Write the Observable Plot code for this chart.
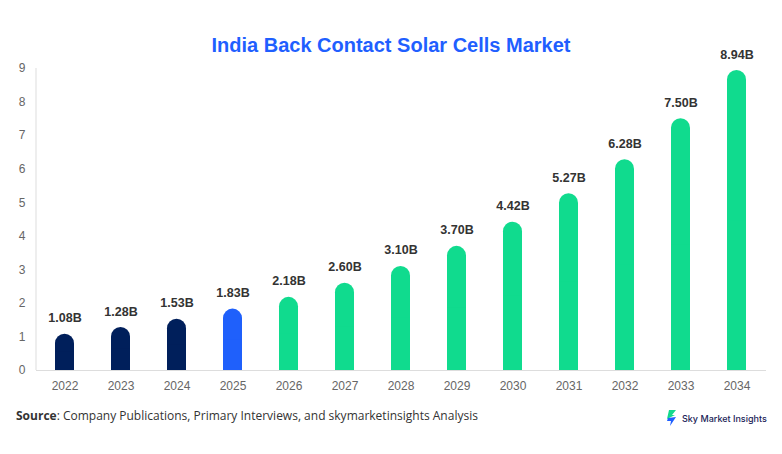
<!DOCTYPE html>
<html>
<head>
<meta charset="utf-8">
<script src="https://cdn.jsdelivr.net/npm/d3@7"></script>
<script src="https://cdn.jsdelivr.net/npm/@observablehq/plot@0.6"></script>
<style>
  html, body { margin: 0; padding: 0; background: #fff; }
  #wrap { position: relative; width: 782px; height: 454px; overflow: hidden; }
  #title { position: absolute; top: 33px; left: 0; width: 782px; text-align: center;
    font-family: "Liberation Sans", Arial, sans-serif; font-weight: bold; font-size: 20px;
    color: #1f5fff; line-height: 24px; }
  #chart { position: absolute; top: 0; left: 0; }
  #source { position: absolute; top: 407px; left: 16px; font-family: "Open Sans", sans-serif;
    font-size: 12px; color: #333; line-height: 18px; }
  #logo { position: absolute; top: 410px; left: 666px; display: flex; align-items: center;
    font-family: Inter, "Noto Sans", sans-serif; font-size: 9px; font-weight: 500; color: #1b2357; }
  #logo svg { margin-right: 5px; }
</style>
</head>
<body>
<div id="wrap">
  <div id="chart"></div>
  <div id="title">India Back Contact Solar Cells Market</div>
  <div id="source"><b>Source</b>: Company Publications, Primary Interviews, and skymarketinsights Analysis</div>
  <div id="logo">
    <svg width="11" height="16" viewBox="0 0 11 16">
      <path d="M3 0 L10 0 L6 5 L9 5 L1 9 Z" fill="#13d98c"/>
      <path d="M2 8 L10 7 L4 16 L5 11 L1 11 Z" fill="#1f5fff"/>
    </svg>
    <span>Sky Market Insights</span>
  </div>
</div>
<script>
const years = ["2022","2023","2024","2025","2026","2027","2028","2029","2030","2031","2032","2033","2034"];
const values = [1.08, 1.28, 1.53, 1.83, 2.18, 2.60, 3.10, 3.70, 4.42, 5.27, 6.28, 7.50, 8.94];
const labels = ["1.08B","1.28B","1.53B","1.83B","2.18B","2.60B","3.10B","3.70B","4.42B","5.27B","6.28B","7.50B","8.94B"];
const phase = ["hist","hist","hist","base","fc","fc","fc","fc","fc","fc","fc","fc","fc"];
const yTicks = [0,1,2,3,4,5,6,7,8,9];

const data = years.map((y, i) => ({year: y, value: values[i], label: labels[i], phase: phase[i]}));
const colorOf = {hist: "#001f5b", base: "#1f60fb", fc: "#10db8e"};

const yAxisLine = (index, scales, values, dims) => {
  const ns = "http://www.w3.org/2000/svg";
  const g = document.createElementNS(ns, "g");
  const l = document.createElementNS(ns, "line");
  l.setAttribute("x1", dims.marginLeft);
  l.setAttribute("x2", dims.marginLeft);
  l.setAttribute("y1", scales.y(9));
  l.setAttribute("y2", scales.y(0));
  l.setAttribute("stroke", "#dddddd");
  l.setAttribute("stroke-width", 1);
  g.appendChild(l);
  return g;
};

const chart = Plot.plot({
  width: 782,
  height: 400,
  marginTop: 68,
  marginBottom: 30,
  marginLeft: 36,
  marginRight: 16,
  style: {fontFamily: "'Liberation Sans', Arial, sans-serif", fontSize: "12px", color: "#666", background: "transparent"},
  x: {domain: years, paddingInner: 0.66, paddingOuter: 0.33, label: null},
  y: {domain: [0, 9], label: null},
  marks: [
    Plot.axisX({tickSize: 0, tickPadding: 11, fontSize: 12, fill: "#666"}),
    Plot.axisY({ticks: yTicks, tickSize: 0, tickPadding: 11, fontSize: 12, fill: "#666"}),
    Plot.ruleY([0], {stroke: "#dddddd", strokeWidth: 1}),
    yAxisLine,
    Plot.barY(data, {x: "year", y: "value", fill: d => colorOf[d.phase], rx: 9.5}),
    Plot.barY(data, {x: "year", y1: 0, y2: d => d.value / 2, fill: d => colorOf[d.phase]}),
    Plot.text(data, {x: "year", y: "value", text: "label", dy: -16, fontSize: 12.5, fontWeight: "bold", fill: "#333"})
  ]
});
document.getElementById("chart").appendChild(chart);
</script>
</body>
</html>
